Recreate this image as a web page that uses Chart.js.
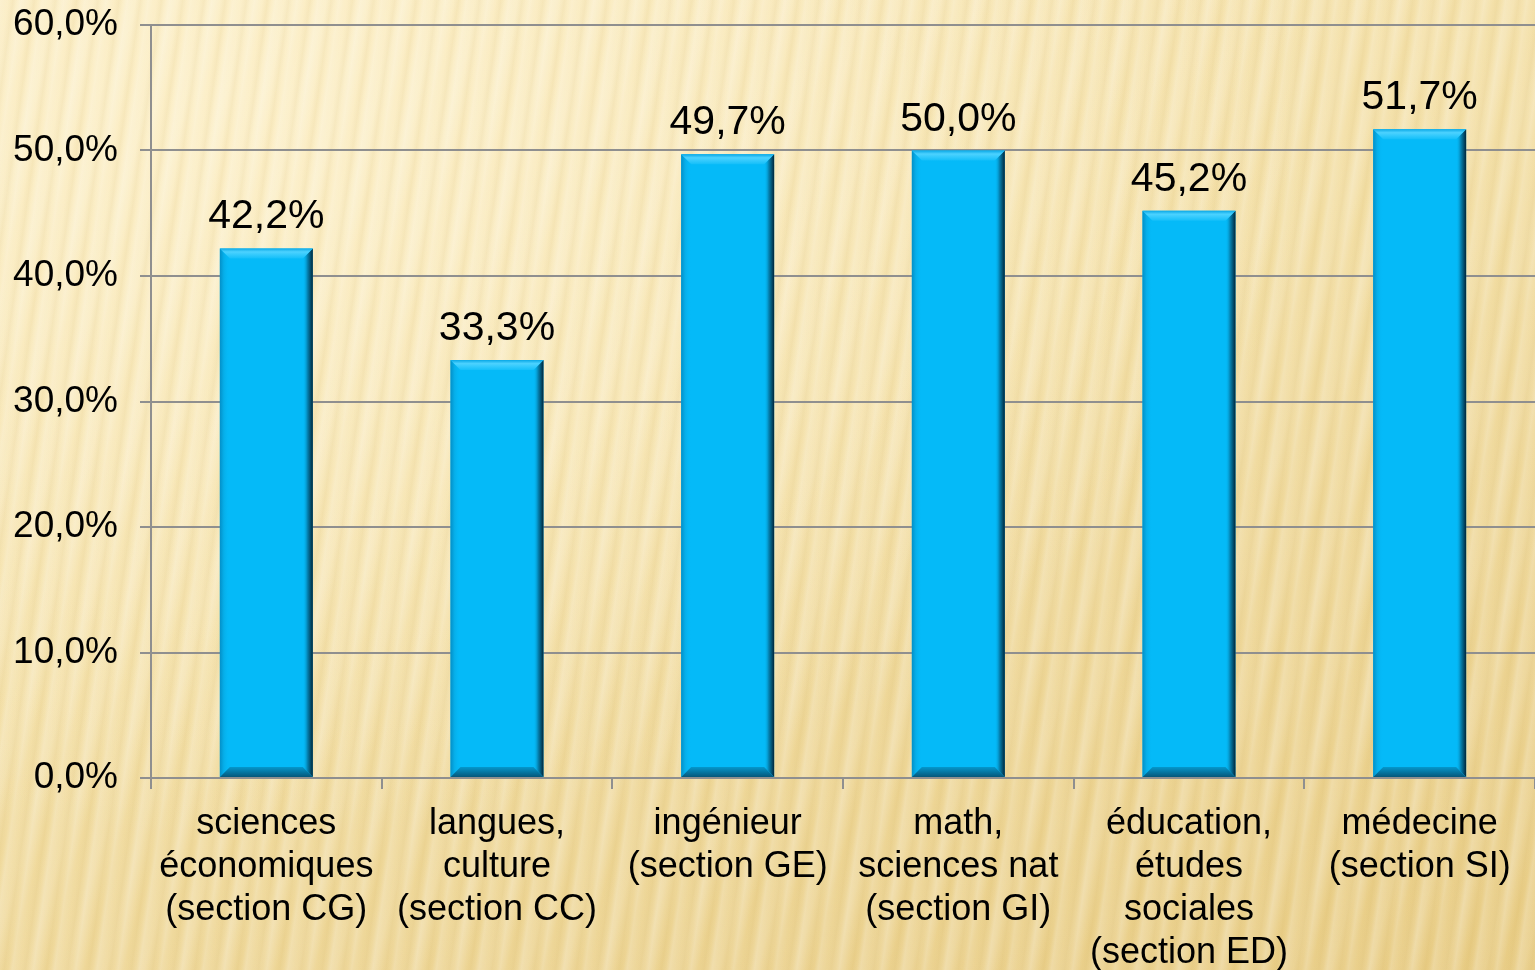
<!DOCTYPE html>
<html>
<head>
<meta charset="utf-8">
<script src="https://cdn.jsdelivr.net/npm/chart.js@4.4.1/dist/chart.umd.min.js"></script>
<style>
  html, body { margin: 0; padding: 0; }
  body {
    width: 1535px; height: 970px; overflow: hidden;
    background:
      repeating-linear-gradient(98deg, rgba(255,255,255,0.18) 0px, rgba(255,255,255,0.0) 8px, rgba(190,150,50,0.08) 13px, rgba(255,255,255,0.0) 17px, rgba(255,255,255,0.18) 21px),
      repeating-linear-gradient(105deg, rgba(255,255,255,0.0) 0px, rgba(255,255,255,0.12) 20px, rgba(255,255,255,0.0) 37px),
      radial-gradient(ellipse at 15% 10%, #fcefc8 0%, rgba(252,239,200,0) 60%),
      linear-gradient(160deg, #f9e9bb 0%, #f3dfa6 45%, #ecd391 80%, #e8cc84 100%);
  }
  #wrap { position: absolute; left: 0; top: 0; width: 1535px; height: 970px; }
</style>
</head>
<body>
<div id="wrap"><canvas id="c" width="1535" height="970"></canvas></div>
<script>
const categories = [
  ["sciences", "économiques", "(section CG)"],
  ["langues,", "culture", "(section CC)"],
  ["ingénieur", "(section GE)"],
  ["math,", "sciences nat", "(section GI)"],
  ["éducation,", "études", "sociales", "(section ED)"],
  ["médecine", "(section SI)"]
];
const values = [42.2, 33.3, 49.7, 50.0, 45.2, 51.7];
const yTicks = [0, 10, 20, 30, 40, 50, 60];

const FONT = "'Liberation Sans', Arial, sans-serif";
const fmt = v => v.toFixed(1).replace('.', ',') + '%';

const bevelPlugin = {
  id: 'bevel',
  afterDatasetsDraw(chart) {
    const ctx = chart.ctx;
    chart.getDatasetMeta(0).data.forEach(bar => {
      const p = bar.getProps(['x', 'y', 'base', 'width'], true);
      const l = p.x - p.width / 2, r = p.x + p.width / 2, t = p.y, b = p.base;
      const d = 10;
      ctx.save();
      let g = ctx.createLinearGradient(l, 0, l + d, 0);
      g.addColorStop(0, '#0390c8'); g.addColorStop(0.4, '#06aee9'); g.addColorStop(1, 'rgba(5,186,248,0)');
      ctx.fillStyle = g;
      ctx.beginPath(); ctx.moveTo(l, t); ctx.lineTo(l + d, t + d); ctx.lineTo(l + d, b - d); ctx.lineTo(l, b); ctx.closePath(); ctx.fill();
      g = ctx.createLinearGradient(r - d, 0, r, 0);
      g.addColorStop(0, 'rgba(5,186,248,0)'); g.addColorStop(0.45, '#0585b5'); g.addColorStop(1, '#01263a');
      ctx.fillStyle = g;
      ctx.beginPath(); ctx.moveTo(r, t); ctx.lineTo(r, b); ctx.lineTo(r - d, b - d); ctx.lineTo(r - d, t + d); ctx.closePath(); ctx.fill();
      g = ctx.createLinearGradient(0, t, 0, t + d);
      g.addColorStop(0, '#0aa8e6'); g.addColorStop(0.35, '#4cd2ff'); g.addColorStop(1, '#14bff9');
      ctx.fillStyle = g;
      ctx.beginPath(); ctx.moveTo(l, t); ctx.lineTo(r, t); ctx.lineTo(r - d, t + d); ctx.lineTo(l + d, t + d); ctx.closePath(); ctx.fill();
      g = ctx.createLinearGradient(0, b - d, 0, b);
      g.addColorStop(0, '#0597cc'); g.addColorStop(1, '#05577a');
      ctx.fillStyle = g;
      ctx.beginPath(); ctx.moveTo(l, b); ctx.lineTo(r, b); ctx.lineTo(r - d, b - d); ctx.lineTo(l + d, b - d); ctx.closePath(); ctx.fill();
      ctx.restore();
    });
  }
};

const labelPlugin = {
  id: 'vlabels',
  afterDatasetsDraw(chart) {
    const ctx = chart.ctx;
    const ds = chart.data.datasets[0];
    ctx.save();
    ctx.font = '41px ' + FONT;
    ctx.fillStyle = '#000';
    ctx.textAlign = 'center';
    ctx.textBaseline = 'alphabetic';
    chart.getDatasetMeta(0).data.forEach((bar, i) => {
      ctx.fillText(fmt(ds.data[i]), bar.x, bar.y - 20);
    });
    ctx.restore();
  }
};

new Chart(document.getElementById('c'), {
  type: 'bar',
  data: {
    labels: categories,
    datasets: [{
      data: values,
      backgroundColor: '#05baf8',
      borderWidth: 0,
      barPercentage: 0.403,
      categoryPercentage: 1.0
    }]
  },
  options: {
    responsive: false,
    animation: false,
    layout: { padding: { top: 25, right: 0, bottom: 0, left: 0 } },
    plugins: { legend: { display: false }, tooltip: { enabled: false } },
    scales: {
      x: {
        offset: true,
        grid: { offset: true, drawOnChartArea: false, drawTicks: true, tickLength: 11, color: '#8f8f8f', lineWidth: 2 },
        border: { display: true, color: '#8f8f8f', width: 2 },
        ticks: { color: '#000', padding: 14, maxRotation: 0, autoSkip: false, font: { family: FONT, size: 36, lineHeight: 1.19 } },
        afterFit(s) { s.height = 192; s.paddingLeft = 0; s.paddingRight = 0; }
      },
      y: {
        min: 0, max: 60,
        afterBuildTicks(s) { s.ticks = yTicks.map(v => ({ value: v })); },
        grid: { color: '#8f8f8f', lineWidth: 2, tickLength: 11, drawTicks: true },
        border: { display: true, color: '#8f8f8f', width: 2 },
        ticks: { color: '#000', padding: 22, font: { family: FONT, size: 37 }, callback: v => fmt(v) },
        afterFit(s) { s.width = 151; s.paddingTop = 0; s.paddingBottom = 0; }
      }
    }
  },
  plugins: [bevelPlugin, labelPlugin]
});
</script>
</body>
</html>
